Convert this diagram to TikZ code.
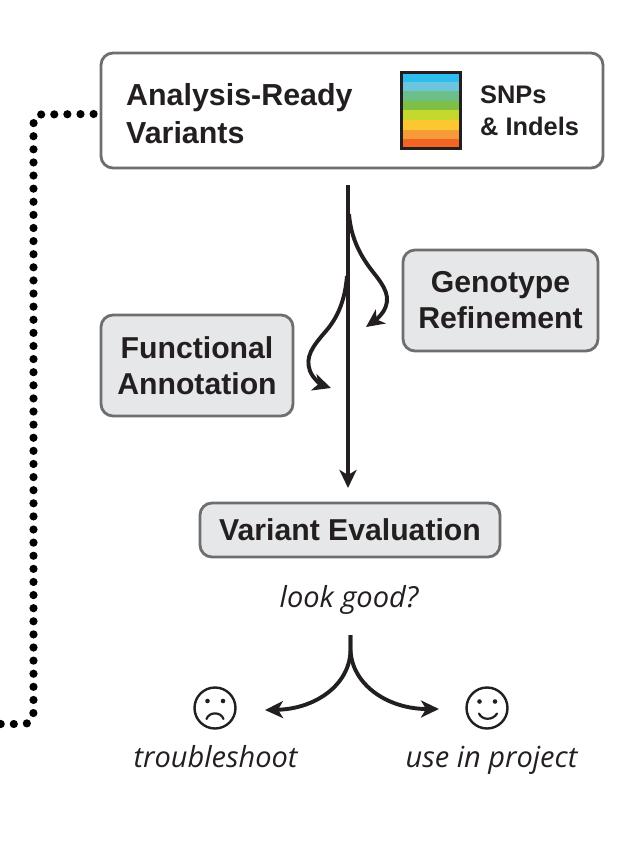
\documentclass[tikz,border=0pt]{standalone}
\usepackage{fontspec}
\setmainfont{Liberation Sans}
\newfontfamily\ital{Open Sans}
\usetikzlibrary{arrows.meta}
\definecolor{edgegray}{HTML}{6D6E70}
\definecolor{fillgray}{HTML}{E6E7E8}
\definecolor{ink}{HTML}{231F20}
\tikzset{
  x=1pt,y=-1pt,
  boxbase/.style={draw=edgegray,line width=2.8pt,rounded corners=12pt,inner sep=0pt,align=center,text=ink},
  graybox/.style={boxbase,fill=fillgray,font=\fontsize{30.2}{36}\selectfont\bfseries},
  titletext/.style={text=ink,font=\fontsize{30.4}{37}\selectfont\bfseries,align=left,inner sep=0pt},
  smalltext/.style={text=ink,font=\fontsize{25.4}{32}\selectfont\bfseries,align=left,inner sep=0pt},
  itext/.style={text=ink,font=\ital\itshape\fontsize{29}{34}\selectfont,inner sep=0pt,anchor=base},
  flow/.style={draw=ink,line width=3.9pt},
  flowtip/.style={flow,-{Stealth[length=18pt,width=17pt,inset=5pt]}},
  dotted line/.style={draw=black,line width=8.2pt,line cap=round,dash pattern=on 0pt off 13.11pt},
  facecircle/.style={circle,draw=ink,line width=2.4pt,minimum size=41pt,inner sep=0pt},
  faceline/.style={draw=ink,line width=2.2pt,line cap=round},
  eye/.style={fill=ink},
}
\begin{document}
\begin{tikzpicture}
\useasboundingbox (0,0) rectangle (636,849);
% boxes
\node[boxbase,minimum width=502pt,minimum height=115pt,fill=white] (ready) at (352,110.5) {};
\node[titletext,anchor=west] (readytext) at (126,113.5) {Analysis-Ready\\[1pt]Variants};
\node[smalltext,anchor=west] (snps) at (480,111) {SNPs\\\& Indels};
% swatch
\foreach \c/\y in {2DBDEE/0,6CC5DC/1,6CBF88/2,7FBF45/3,C5D82E/4,FDC82F/5,F79A3A/6,F26522/7}{
  \definecolor{stripe}{HTML}{\c}
  \fill[stripe] (400,{72+\y*9.6}) rectangle (461,{72+(\y+1)*9.6+0.3});
}
\draw[draw=ink,line width=3pt] (401,72.5) rectangle (460,148.5);
\node[graybox,minimum width=195pt,minimum height=101pt] (geno) at (500.5,300.5) {Genotype\\Refinement};
\node[graybox,minimum width=192pt,minimum height=101pt] (func) at (197,365.5) {Functional\\Annotation};
\node[graybox,minimum width=300pt,minimum height=54pt] (eval) at (350,530) {Variant Evaluation};
\node[itext] (look) at (349,607) {look good?};
% faces
\node[facecircle] (sad) at (215,708) {};
\node[facecircle] (happy) at (487,708) {};
\fill[eye] (207.5,701) circle (2.3pt) (223,701) circle (2.3pt);
\draw[faceline] (206.5,719) .. controls (209,711.5) and (221,711.5) .. (223.5,719);
\fill[eye] (479.5,701.5) circle (2.3pt) (495,701.5) circle (2.3pt);
\draw[faceline] (479,713.5) .. controls (482,720.5) and (493,720.5) .. (497,713.5);
\node[itext] (trouble) at (215.5,767.5) {troubleshoot};
\node[itext] (use) at (491.5,767.5) {use in project};
% connectors
\coordinate (mainstart) at (348,185);
\coordinate (maintip) at (348,488);
\draw[flowtip] (mainstart) -- (maintip);
\coordinate (rstart) at (349,214);
\coordinate (rtip) at (366,327);
\draw[flowtip] (rstart) .. controls (351,240) and (362,258) .. (373,272)
  .. controls (385,287) and (392,298) .. (383,312) .. controls (379,318) and (373,322) .. (rtip);
\coordinate (lstart) at (347,276);
\coordinate (ltip) at (331,388);
\draw[flowtip] (lstart) .. controls (345,300) and (338,317) .. (326,331)
  .. controls (312,347) and (305,357) .. (310,371) .. controls (313,379) and (322,385) .. (ltip);
\coordinate (bstart) at (350.5,635);
\coordinate (bleft) at (265,710);
\coordinate (bright) at (439,709);
\draw[flowtip] (bstart) -- (350.5,650) .. controls (350,685) and (315,709) .. (bleft);
\draw[flowtip] (bstart) -- (350.5,650) .. controls (352,685) and (388,709) .. (bright);
% dotted feedback
\coordinate (offpage) at (-13,724);
\path[dotted line] (ready.west) ++(-6,3.5) -- (40,114.5) .. controls (36,114.5) and (33.5,118) .. (33.5,124)
  -- (33.5,712) .. controls (33.5,719) and (30,724) .. (24,724) -- (offpage);
\end{tikzpicture}
\end{document}
